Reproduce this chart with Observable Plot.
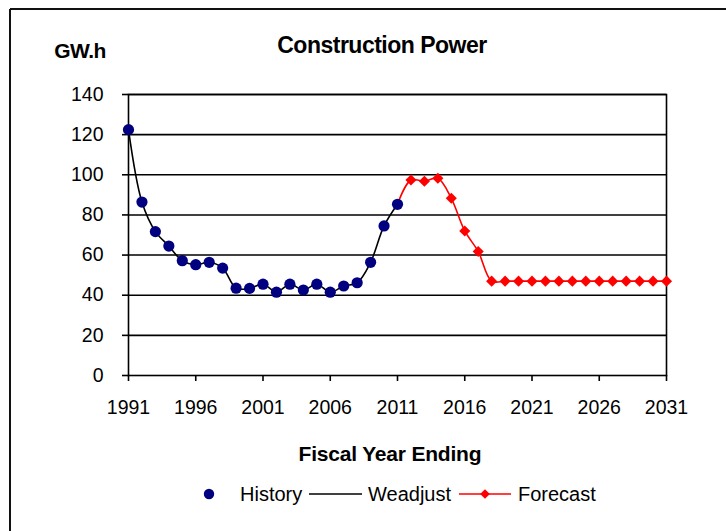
<!DOCTYPE html>
<html>
<head>
<meta charset="utf-8">
<script src="https://cdn.jsdelivr.net/npm/d3@7"></script>
<script src="https://cdn.jsdelivr.net/npm/@observablehq/plot@0.6"></script>
<style>
  html, body { margin: 0; padding: 0; background: #fff; }
  #chart svg { display: block; font-family: "Liberation Sans", Arial, sans-serif; }
</style>
</head>
<body>
<div id="chart"></div>
<script>
const historyYears = [1991,1992,1993,1994,1995,1996,1997,1998,1999,2000,2001,2002,2003,2004,2005,2006,2007,2008,2009,2010,2011];
const historyValues = [122.5,86.4,71.7,64.5,57.2,55.2,56.4,53.5,43.5,43.4,45.5,41.5,45.5,42.6,45.5,41.5,44.6,46.2,56.4,74.5,85.3];
const forecastYears = [2011,2012,2013,2014,2015,2016,2017,2018,2019,2020,2021,2022,2023,2024,2025,2026,2027,2028,2029,2030,2031];
const forecastValues = [85.3,97.4,96.8,98.3,88.3,72.0,61.8,47.0,47.0,47.0,47.0,47.0,47.0,47.0,47.0,47.0,47.0,47.0,47.0,47.0,47.0];
const xTicks = [1991,1996,2001,2006,2011,2016,2021,2026,2031];
const yTicks = [0,20,40,60,80,100,120,140];
const titleText = "Construction Power";
const yLabel = "GW.h";
const xLabel = "Fiscal Year Ending";
const legendLabels = ["History", "Weadjust", "Forecast"];

const history = historyYears.map((y, i) => ({year: y, value: historyValues[i]}));
const forecast = forecastYears.map((y, i) => ({year: y, value: forecastValues[i]}));

const W = 726, H = 531;
const chart = Plot.plot({
  width: W,
  height: H,
  marginLeft: 128,
  marginRight: 60,
  marginTop: 94,
  marginBottom: 156,
  style: {fontFamily: "Liberation Sans, Arial, sans-serif", fontSize: "19.5px", color: "#000", background: "#fff"},
  x: {domain: [1991, 2031]},
  y: {domain: [0, 140]},
  marks: [
    Plot.ruleY(yTicks.filter(d => d > 0), {stroke: "#000", strokeWidth: 1.6}),
    Plot.frame({stroke: "#000", strokeWidth: 1.6}),
    Plot.axisY({ticks: yTicks, tickSize: 6, tickPadding: 19, label: null, stroke: "#000", strokeWidth: 1.6, fontSize: 19.5, fill: "#000"}),
    Plot.axisX({ticks: xTicks, tickSize: 6, tickPadding: 19, tickFormat: d => String(d), label: null, stroke: "#000", strokeWidth: 1.6, fontSize: 19.5, fill: "#000"}),
    Plot.line(forecast, {x: "year", y: "value", stroke: "#ff0000", strokeWidth: 1.6, curve: "catmull-rom"}),
    Plot.line(history, {x: "year", y: "value", stroke: "#000", strokeWidth: 1.6, curve: "catmull-rom"}),
    Plot.dot(forecast.slice(1), {x: "year", y: "value", symbol: "diamond2", r: 5, fill: "#ff0000", stroke: "none"}),
    Plot.dot(history, {x: "year", y: "value", r: 5.6, fill: "#000080", stroke: "none"})
  ]
});

const svg = d3.select(chart);
// outer border (top and left edges)
svg.append("line").attr("x1", 10).attr("y1", 9).attr("x2", W).attr("y2", 9).attr("stroke", "#111").attr("stroke-width", 2);
svg.append("line").attr("x1", 10).attr("y1", 9).attr("x2", 10).attr("y2", H).attr("stroke", "#111").attr("stroke-width", 2);

const txt = (x, y, s, opts = {}) => svg.append("text")
  .attr("x", x).attr("y", y)
  .attr("text-anchor", opts.anchor || "start")
  .attr("dominant-baseline", "central")
  .attr("font-size", opts.size || 20)
  .attr("font-weight", opts.weight || "normal")
  .attr("letter-spacing", opts.ls || 0)
  .attr("fill", "#000")
  .text(s);

txt(382, 45, titleText, {anchor: "middle", weight: "bold", size: 23, ls: -0.5});
txt(80, 50, yLabel, {anchor: "middle", weight: "bold", size: 21, ls: -0.5});
txt(390, 453, xLabel, {anchor: "middle", weight: "bold", size: 21, ls: -0.2});

// legend
const ly = 494;
svg.append("circle").attr("cx", 209).attr("cy", ly).attr("r", 5.2).attr("fill", "#000080");
txt(240, ly, legendLabels[0]);
svg.append("line").attr("x1", 309).attr("x2", 362).attr("y1", ly).attr("y2", ly).attr("stroke", "#000").attr("stroke-width", 1.6);
txt(368, ly, legendLabels[1]);
svg.append("line").attr("x1", 459).attr("x2", 511).attr("y1", ly).attr("y2", ly).attr("stroke", "#ff0000").attr("stroke-width", 1.6);
svg.append("path").attr("d", d3.symbol(d3.symbolDiamond2, 60)()).attr("transform", `translate(485,${ly})`).attr("fill", "#ff0000");
txt(518, ly, legendLabels[2]);

document.getElementById("chart").appendChild(chart);
</script>
</body>
</html>
